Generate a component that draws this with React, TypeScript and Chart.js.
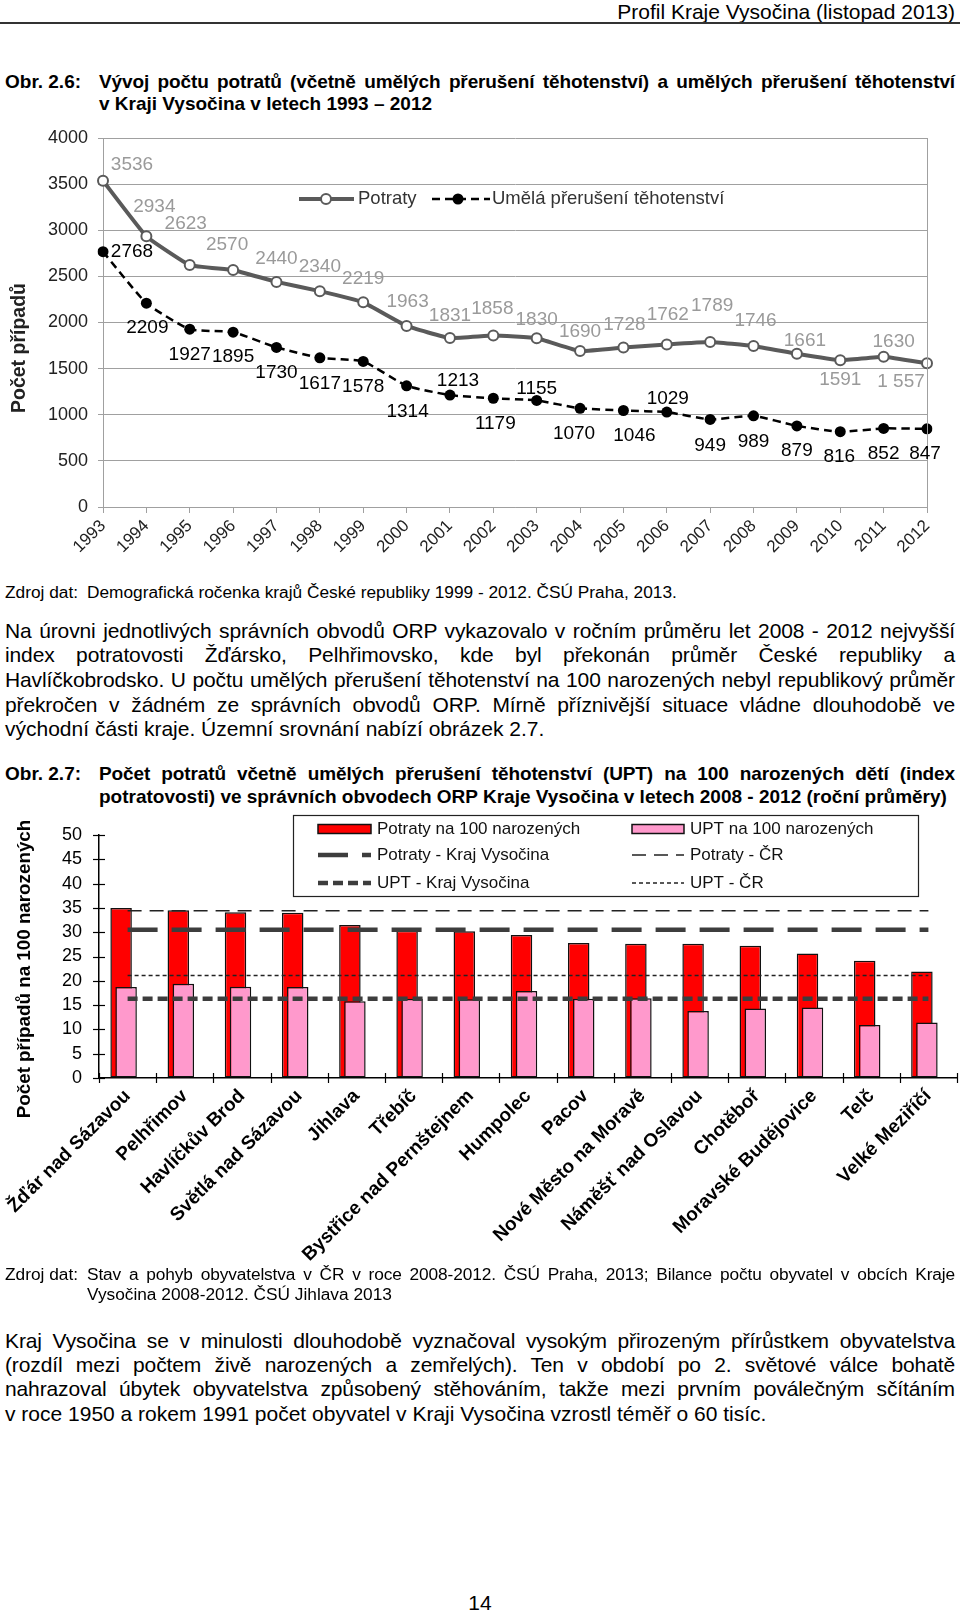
import React, { useEffect, useRef } from "react";
import { Chart, registerables } from "chart.js";

Chart.register(...registerables);

const FONT = "'Liberation Sans', Arial, Helvetica, sans-serif";
Chart.defaults.font.family = FONT;

// ---------- Obr. 2.6 data ----------
const years = [
  "1993", "1994", "1995", "1996", "1997", "1998", "1999", "2000", "2001", "2002",
  "2003", "2004", "2005", "2006", "2007", "2008", "2009", "2010", "2011", "2012",
];
const potraty = [
  3536, 2934, 2623, 2570, 2440, 2340, 2219, 1963, 1831, 1858,
  1830, 1690, 1728, 1762, 1789, 1746, 1661, 1591, 1630, 1557,
];
const umela = [
  2768, 2209, 1927, 1895, 1730, 1617, 1578, 1314, 1213, 1179,
  1155, 1070, 1046, 1029, 949, 989, 879, 816, 852, 847,
];
const y1Max = 4000;
const y1Step = 500;
// the last Potraty label is printed with a thousands space in the original
const spacedLabelIndex = 19;
const potratyLabelText = potraty.map((v, i) =>
  i === spacedLabelIndex ? String(v).replace(/(\d)(\d{3})$/, "$1 $2") : String(v)
);
const umelaLabelText = umela.map((v) => String(v));
// label placement relative to the point (label layout, px)
const potratyLabelOffsets: [number, number][] = [
  [29, -16], [8, -30], [-4, -41], [-6, -25], [0, -23], [0, -24], [0, -24], [1, -24], [0, -22], [-1, -27],
  [0, -18], [0, -19], [1, -23], [1, -30], [2, -36], [2, -25], [8, -13], [0, 20], [10, -15], [-26, 18],
];
const umelaLabelOffsets: [number, number][] = [
  [29, 0], [1, 25], [0, 26], [0, 25], [0, 25], [0, 26], [0, 25], [1, 26], [8, -14], [2, 26],
  [0, -12], [-6, 25], [11, 25], [1, -13], [0, 26], [0, 26], [0, 25], [-1, 25], [0, 25], [-2, 25],
];

// ---------- Obr. 2.7 data ----------
const orp = [
  "Žďár nad Sázavou", "Pelhřimov", "Havlíčkův Brod", "Světlá nad Sázavou", "Jihlava",
  "Třebíč", "Bystřice nad Pernštejnem", "Humpolec", "Pacov", "Nové Město na Moravě",
  "Náměšť nad Oslavou", "Chotěboř", "Moravské Budějovice", "Telč", "Velké Meziříčí",
];
const potratyNa100 = [35.0, 34.5, 34.1, 34.0, 31.5, 30.3, 30.2, 29.4, 27.8, 27.6, 27.6, 27.2, 25.6, 24.1, 21.9];
const uptNa100 = [18.7, 19.4, 18.8, 18.7, 15.8, 16.3, 16.2, 17.9, 16.3, 16.4, 13.8, 14.3, 14.5, 10.9, 11.4];
const potratyKraj = 30.5;
const potratyCR = 34.4;
const uptKraj = 16.3;
const uptCR = 21.1;
const y2Max = 50;
const y2Step = 5;

const GRID1 = "#a0a0a0";

function drawRotatedTitle(ctx: CanvasRenderingContext2D, text: string, x: number, y: number, font: string, color: string) {
  ctx.save();
  ctx.translate(x, y);
  ctx.rotate(-Math.PI / 2);
  ctx.font = font;
  ctx.fillStyle = color;
  ctx.textAlign = "center";
  ctx.textBaseline = "middle";
  ctx.fillText(text, 0, 0);
  ctx.restore();
}

const chart1Extras = {
  id: "chart1Extras",
  afterDatasetsDraw(chart: any) {
    const { ctx, chartArea } = chart;
    ctx.save();
    ctx.strokeStyle = GRID1;
    ctx.lineWidth = 1;
    const rx = Math.round(chartArea.right) + 0.5;
    ctx.beginPath();
    ctx.moveTo(rx, chartArea.top);
    ctx.lineTo(rx, chartArea.bottom);
    ctx.stroke();

    ctx.font = `19px ${FONT}`;
    ctx.textAlign = "center";
    ctx.textBaseline = "middle";
    const m0 = chart.getDatasetMeta(0);
    ctx.fillStyle = "#9a9a9a";
    m0.data.forEach((el: any, i: number) => {
      const o = potratyLabelOffsets[i];
      ctx.fillText(potratyLabelText[i], el.x + o[0], el.y + o[1]);
    });
    const m1 = chart.getDatasetMeta(1);
    ctx.fillStyle = "#000";
    m1.data.forEach((el: any, i: number) => {
      const o = umelaLabelOffsets[i];
      ctx.fillText(umelaLabelText[i], el.x + o[0], el.y + o[1]);
    });
    ctx.restore();
  },
  afterDraw(chart: any) {
    const { ctx } = chart;
    const ds0 = chart.data.datasets[0];
    const ds1 = chart.data.datasets[1];
    const ly = 84;
    ctx.save();
    // Potraty sample
    ctx.strokeStyle = ds0.borderColor;
    ctx.lineWidth = ds0.borderWidth;
    ctx.beginPath();
    ctx.moveTo(299, ly);
    ctx.lineTo(354, ly);
    ctx.stroke();
    ctx.beginPath();
    ctx.arc(326, ly, 5, 0, Math.PI * 2);
    ctx.fillStyle = "#fff";
    ctx.fill();
    ctx.lineWidth = 2;
    ctx.stroke();
    // Umělá sample
    ctx.strokeStyle = ds1.borderColor;
    ctx.lineWidth = ds1.borderWidth;
    ctx.setLineDash(ds1.borderDash);
    ctx.beginPath();
    ctx.moveTo(432, ly);
    ctx.lineTo(490, ly);
    ctx.stroke();
    ctx.setLineDash([]);
    ctx.beginPath();
    ctx.arc(458, ly, 5.5, 0, Math.PI * 2);
    ctx.fillStyle = "#000";
    ctx.fill();
    ctx.font = `18.5px ${FONT}`;
    ctx.fillStyle = "#333";
    ctx.textAlign = "left";
    ctx.textBaseline = "middle";
    ctx.fillText(ds0.label, 358, ly);
    ctx.fillText(ds1.label, 492, ly);
    ctx.restore();
    drawRotatedTitle(ctx, "Počet případů", 20, 233, `bold 19.5px ${FONT}`, "#222");
  },
};

const chart2Extras = {
  id: "chart2Extras",
  afterDraw(chart: any) {
    const { ctx, scales } = chart;
    const x = scales.x;
    const y = scales.y;
    ctx.save();
    ctx.strokeStyle = "#000";
    ctx.lineWidth = 1.2;
    // y tick marks crossing the axis
    y.ticks.forEach((t: any) => {
      const py = Math.round(y.getPixelForValue(t.value)) + 0.5;
      ctx.beginPath();
      ctx.moveTo(x.left - 6, py);
      ctx.lineTo(x.left + 6, py);
      ctx.stroke();
    });
    // x tick marks crossing the axis at category boundaries
    const n = chart.data.labels.length;
    for (let i = 0; i <= n; i++) {
      let px;
      if (i === 0) px = x.left;
      else if (i === n) px = x.right;
      else px = (x.getPixelForValue(i - 1) + x.getPixelForValue(i)) / 2;
      px = Math.round(px) + 0.5;
      ctx.beginPath();
      ctx.moveTo(px, y.bottom - 5);
      ctx.lineTo(px, y.bottom + 5);
      ctx.stroke();
    }
    ctx.restore();

    // legend box
    const ds = chart.data.datasets;
    const byLabel = (l: string) => ds.find((d: any) => d.label === l);
    ctx.save();
    ctx.fillStyle = "#fff";
    ctx.fillRect(293, 15, 626, 82);
    ctx.strokeStyle = "#222";
    ctx.lineWidth = 1.2;
    ctx.strokeRect(293.5, 15.5, 625, 81);
    const rows = [29, 55, 83];
    const cols = [
      { x0: 318, x1: 371, tx: 377 },
      { x0: 632, x1: 684, tx: 690 },
    ];
    const items = [
      ["Potraty na 100 narozených", "UPT na 100 narozených"],
      ["Potraty - Kraj Vysočina", "Potraty - ČR"],
      ["UPT - Kraj Vysočina", "UPT - ČR"],
    ];
    ctx.font = `17px ${FONT}`;
    ctx.textAlign = "left";
    ctx.textBaseline = "middle";
    items.forEach((row, r) => {
      row.forEach((label, c) => {
        const d = byLabel(label);
        const col = cols[c];
        const yy = rows[r];
        if (d.type === "bar") {
          ctx.fillStyle = d.backgroundColor;
          ctx.fillRect(col.x0, yy - 4.5, col.x1 - col.x0, 9);
          ctx.strokeStyle = d.borderColor;
          ctx.lineWidth = 1.5;
          ctx.strokeRect(col.x0, yy - 4.5, col.x1 - col.x0, 9);
        } else {
          ctx.strokeStyle = d.borderColor;
          ctx.lineWidth = d.borderWidth;
          ctx.setLineDash(d.borderDash);
          ctx.beginPath();
          ctx.moveTo(col.x0, yy);
          ctx.lineTo(col.x1, yy);
          ctx.stroke();
          ctx.setLineDash([]);
        }
        ctx.fillStyle = "#111";
        ctx.fillText(label, col.tx, yy);
      });
    });
    ctx.restore();
    drawRotatedTitle(ctx, "Počet případů na 100 narozených", 25, 169, `bold 18.8px ${FONT}`, "#000");
  },
};

function AbortionTrendChart() {
  const ref = useRef<HTMLCanvasElement | null>(null);
  useEffect(() => {
    if (!ref.current) return;
    const chart = new Chart(ref.current, {
      type: "line",
      data: {
        labels: years,
        datasets: [
          {
            label: "Potraty",
            data: potraty,
            borderColor: "#5a5a5a",
            borderWidth: 4,
            pointRadius: 5,
            pointBackgroundColor: "#fff",
            pointBorderColor: "#5a5a5a",
            pointBorderWidth: 2,
            tension: 0.1,
          },
          {
            label: "Umělá přerušení těhotenství",
            data: umela,
            borderColor: "#000",
            borderWidth: 2.5,
            borderDash: [8, 5],
            pointRadius: 5.5,
            pointBackgroundColor: "#000",
            pointBorderColor: "#000",
            pointBorderWidth: 0,
            tension: 0.15,
          },
        ],
      },
      options: {
        responsive: false,
        animation: false,
        events: [],
        layout: { padding: { left: 0, right: 33, top: 23, bottom: 0 } },
        plugins: { legend: { display: false }, tooltip: { enabled: false } },
        scales: {
          x: {
            offset: false,
            grid: { drawOnChartArea: false, drawTicks: true, tickLength: 6, color: GRID1 },
            border: { color: GRID1 },
            ticks: { autoSkip: false, maxRotation: 45, minRotation: 45, color: "#222", font: { size: 17 }, padding: 3 },
            afterFit: (s: any) => {
              s.height = 68;
            },
          },
          y: {
            min: 0,
            max: y1Max,
            ticks: {
              stepSize: y1Step,
              autoSkip: false,
              color: "#222",
              font: { size: 18 },
              padding: 10,
              callback: (v: any) => String(v),
            },
            grid: { color: GRID1, tickLength: 5 },
            border: { color: GRID1 },
            afterFit: (s: any) => {
              s.width = 103;
            },
          },
        },
      },
      plugins: [chart1Extras],
    } as any);
    return () => chart.destroy();
  }, []);
  return (
    <canvas
      ref={ref}
      width={960}
      height={460}
      style={{ position: "absolute", left: 0, top: 115, width: 960, height: 460 }}
    />
  );
}

function OrpIndexChart() {
  const ref = useRef<HTMLCanvasElement | null>(null);
  useEffect(() => {
    if (!ref.current) return;
    const refLine = (label: string, value: number, color: string, width: number, dash: number[]) => ({
      type: "line",
      label,
      data: orp.map(() => value),
      borderColor: color,
      borderWidth: width,
      borderDash: dash,
      pointRadius: 0,
      fill: false,
      order: 0,
    });
    const chart = new Chart(ref.current, {
      type: "bar",
      data: {
        labels: orp,
        datasets: [
          refLine("Potraty - ČR", potratyCR, "#222", 1.6, [14, 8]),
          refLine("Potraty - Kraj Vysočina", potratyKraj, "#3d3d3d", 4.5, [30, 14]),
          refLine("UPT - ČR", uptCR, "#222", 1.6, [4, 3]),
          refLine("UPT - Kraj Vysočina", uptKraj, "#3d3d3d", 4.5, [10, 5]),
          {
            type: "bar",
            label: "UPT na 100 narozených",
            data: uptNa100,
            backgroundColor: "#ff99cc",
            borderColor: "#111",
            borderWidth: 1.5,
            borderSkipped: false,
            categoryPercentage: 0.0699,
            barPercentage: 21.5,
            order: 1,
          },
          {
            type: "bar",
            label: "Potraty na 100 narozených",
            data: potratyNa100,
            backgroundColor: "#ff0000",
            borderColor: "#111",
            borderWidth: 1.5,
            borderSkipped: false,
            categoryPercentage: 0.909,
            barPercentage: 1.654,
            order: 2,
          },
          // empty slots that give the two overlapping bars their offset in each group
          { type: "bar", label: "", data: orp.map(() => null), order: 3 },
          { type: "bar", label: "", data: orp.map(() => null), order: 3 },
        ],
      },
      options: {
        responsive: false,
        animation: false,
        events: [],
        layout: { padding: { left: 0, right: 3, top: 35, bottom: 0 } },
        plugins: { legend: { display: false }, tooltip: { enabled: false } },
        scales: {
          x: {
            offset: true,
            grid: { display: true, drawOnChartArea: false, drawTicks: false, offset: true },
            border: { color: "#000", width: 1.5 },
            ticks: {
              autoSkip: false,
              maxRotation: 45,
              minRotation: 45,
              color: "#000",
              font: { size: 19, weight: "bold" },
              padding: 7,
            },
            afterFit: (s: any) => {
              s.height = 187;
            },
          },
          y: {
            min: 0,
            max: y2Max,
            ticks: { stepSize: y2Step, autoSkip: false, color: "#000", font: { size: 18 }, padding: 17 },
            grid: { display: true, drawOnChartArea: false, drawTicks: false },
            border: { color: "#000", width: 1.5 },
            afterFit: (s: any) => {
              s.width = 99;
            },
          },
        },
      },
      plugins: [chart2Extras],
    } as any);
    return () => chart.destroy();
  }, []);
  return (
    <canvas
      ref={ref}
      width={960}
      height={465}
      style={{ position: "absolute", left: 0, top: 800, width: 960, height: 465 }}
    />
  );
}

type TProps = {
  top: number;
  left: number;
  width?: number;
  size: number;
  lh: number;
  bold?: boolean;
  justify?: boolean;
  align?: "left" | "right" | "center";
  children: React.ReactNode;
};

function T({ top, left, width, size, lh, bold, justify, align, children }: TProps) {
  return (
    <div
      style={{
        position: "absolute",
        top,
        left,
        width,
        fontSize: size,
        lineHeight: `${lh}px`,
        fontWeight: bold ? 700 : 400,
        textAlign: justify ? "justify" : align || "left",
        textAlignLast: justify ? "justify" : undefined,
        letterSpacing: justify ? "-0.12px" : undefined,
        whiteSpace: justify ? "normal" : "nowrap",
        color: "#000",
      }}
    >
      {children}
    </div>
  );
}

export default function App() {
  const P = 21;
  const PL = 24.7;
  return (
    <div
      style={{
        position: "absolute",
        left: 0,
        top: 0,
        width: 960,
        height: 1613,
        background: "#fff",
        overflow: "hidden",
        fontFamily: FONT,
      }}
    >
      <T top={0} left={0} width={955} size={21} lh={24} align="right">
        Profil Kraje Vysočina (listopad 2013)
      </T>
      <div style={{ position: "absolute", top: 22, left: 0, width: 960, height: 1.5, background: "#333" }} />

      <T top={71} left={5} size={19} lh={22} bold>
        Obr. 2.6:
      </T>
      <T top={71} left={99} width={856} size={19} lh={22} bold justify>
        Vývoj počtu potratů (včetně umělých přerušení těhotenství) a umělých přerušení těhotenství
      </T>
      <T top={93} left={99} size={19} lh={22} bold>
        v Kraji Vysočina v letech 1993 – 2012
      </T>

      <AbortionTrendChart />

      <T top={582} left={5} size={17.3} lh={20}>
        Zdroj dat:
      </T>
      <T top={582} left={87} size={17.3} lh={20}>
        Demografická ročenka krajů České republiky 1999 - 2012. ČSÚ Praha, 2013.
      </T>

      <T top={618.5} left={5} width={950} size={P} lh={PL} justify>
        Na úrovni jednotlivých správních obvodů ORP vykazovalo v ročním průměru let 2008 - 2012 nejvyšší
      </T>
      <T top={643.2} left={5} width={950} size={P} lh={PL} justify>
        index potratovosti Žďársko, Pelhřimovsko, kde byl překonán průměr České republiky a
      </T>
      <T top={667.9} left={5} width={950} size={P} lh={PL} justify>
        Havlíčkobrodsko. U počtu umělých přerušení těhotenství na 100 narozených nebyl republikový průměr
      </T>
      <T top={692.6} left={5} width={950} size={P} lh={PL} justify>
        překročen v žádném ze správních obvodů ORP. Mírně příznivější situace vládne dlouhodobě ve
      </T>
      <T top={717.3} left={5} size={P} lh={PL}>
        východní části kraje. Územní srovnání nabízí obrázek 2.7.
      </T>

      <T top={762.8} left={5} size={19} lh={22} bold>
        Obr. 2.7:
      </T>
      <T top={762.8} left={99} width={856} size={19} lh={22} bold justify>
        Počet potratů včetně umělých přerušení těhotenství (UPT) na 100 narozených dětí (index
      </T>
      <T top={785.5} left={99} size={19} lh={22} bold>
        potratovosti) ve správních obvodech ORP Kraje Vysočina v letech 2008 - 2012 (roční průměry)
      </T>

      <OrpIndexChart />

      <T top={1265} left={5} size={17.3} lh={19.6}>
        Zdroj dat:
      </T>
      <T top={1265} left={87} width={868} size={17.3} lh={19.6} justify>
        Stav a pohyb obyvatelstva v ČR v roce 2008-2012. ČSÚ Praha, 2013; Bilance počtu obyvatel v obcích Kraje
      </T>
      <T top={1284.6} left={87} size={17.3} lh={19.6}>
        Vysočina 2008-2012. ČSÚ Jihlava 2013
      </T>

      <T top={1328.5} left={5} width={950} size={P} lh={PL} justify>
        Kraj Vysočina se v minulosti dlouhodobě vyznačoval vysokým přirozeným přírůstkem obyvatelstva
      </T>
      <T top={1353.2} left={5} width={950} size={P} lh={PL} justify>
        (rozdíl mezi počtem živě narozených a zemřelých). Ten v období po 2. světové válce bohatě
      </T>
      <T top={1376.9} left={5} width={950} size={P} lh={PL} justify>
        nahrazoval úbytek obyvatelstva způsobený stěhováním, takže mezi prvním poválečným sčítáním
      </T>
      <T top={1401.6} left={5} size={P} lh={PL}>
        v roce 1950 a rokem 1991 počet obyvatel v Kraji Vysočina vzrostl téměř o 60 tisíc.
      </T>

      <T top={1591} left={0} width={960} size={21} lh={24} align="center">
        14
      </T>
    </div>
  );
}
